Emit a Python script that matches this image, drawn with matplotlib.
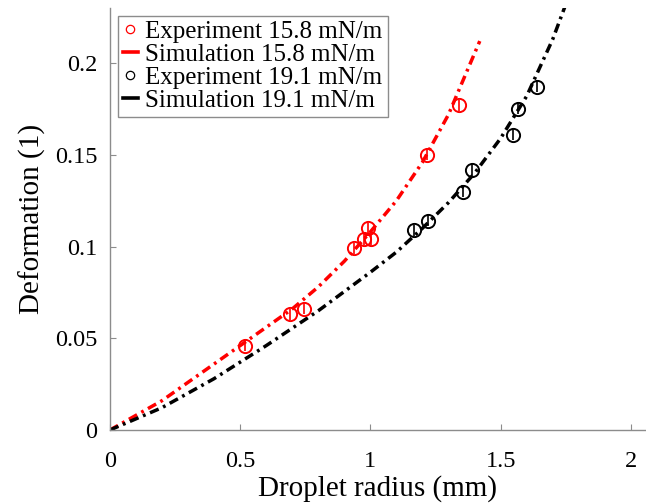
import matplotlib
matplotlib.use("Agg")
import matplotlib.pyplot as plt
from matplotlib.lines import Line2D
from matplotlib.ticker import FuncFormatter

# Measured deformation, surface tension 15.8 mN/m
exp1_r = [0.518, 0.691, 0.745, 0.937, 0.975, 0.990, 1.003, 1.217, 1.340]
exp1_d = [0.046, 0.063, 0.066, 0.099, 0.104, 0.110, 0.104, 0.150, 0.177]
exp1_err = [0.003, 0.003, 0.003, 0.003, 0.003, 0.003, 0.003, 0.003, 0.003]

# Measured deformation, surface tension 19.1 mN/m
exp2_r = [1.167, 1.221, 1.355, 1.390, 1.547, 1.566, 1.639]
exp2_d = [0.109, 0.114, 0.130, 0.142, 0.161, 0.175, 0.187]
exp2_err = [0.003, 0.003, 0.003, 0.003, 0.003, 0.003, 0.003]

# Simulated curves
sim1_r = [0, 0.2, 0.4, 0.5, 0.6, 0.7, 0.8, 0.9, 1.0, 1.1, 1.2, 1.3, 1.42]
sim1_d = [0, 0.016, 0.036, 0.046, 0.056, 0.066, 0.078, 0.092, 0.108, 0.125,
          0.146, 0.172, 0.212]
sim2_r = [0, 0.2, 0.4, 0.5, 0.6, 0.8, 1.0, 1.1, 1.2, 1.3, 1.4, 1.5, 1.6,
          1.7, 1.75]
sim2_d = [0, 0.0122, 0.028, 0.037, 0.046, 0.065, 0.086, 0.097, 0.110, 0.124,
          0.140, 0.159, 0.182, 0.213, 0.232]

x_ticks = [0, 0.5, 1, 1.5, 2]
y_ticks = [0, 0.05, 0.1, 0.15, 0.2]
labels = ["Experiment 15.8 mN/m", "Simulation 15.8 mN/m",
          "Experiment 19.1 mN/m", "Simulation 19.1 mN/m"]

plt.rcParams["font.family"] = ["Liberation Serif", "DejaVu Serif"]
plt.rcParams["mathtext.fontset"] = "stix"

fig = plt.figure(figsize=(6.46, 5.03), dpi=100)
ax = fig.add_axes([0.170, 0.145, 0.830, 0.839])

red = "#ff0000"
blk = "#000000"
dash = (2.7, 1.4, 0.8, 1.4)

ax.plot(sim1_r, sim1_d, color=red, lw=2.5, dashes=dash, zorder=2)
ax.plot(sim2_r, sim2_d, color=blk, lw=2.5, dashes=dash, zorder=2)

ax.errorbar(exp1_r, exp1_d, yerr=exp1_err, fmt="o", ms=9.5, mfc="none",
            mec=red, mew=1.4, ecolor=red, elinewidth=1.2, capsize=0, zorder=3)
ax.errorbar(exp2_r, exp2_d, yerr=exp2_err, fmt="o", ms=9.5, mfc="none",
            mec=blk, mew=1.4, ecolor=blk, elinewidth=1.2, capsize=0, zorder=3)

ax.set_xlim(0, 2.058)
ax.set_ylim(0, 0.23)
ax.set_xticks(x_ticks)
ax.set_yticks(y_ticks)
fmt = FuncFormatter(lambda v, p: f"{v:g}")
ax.xaxis.set_major_formatter(fmt)
ax.yaxis.set_major_formatter(fmt)

gray = "#8c8c8c"
for side in ("top", "right"):
    ax.spines[side].set_visible(False)
for side in ("left", "bottom"):
    ax.spines[side].set_color(gray)
    ax.spines[side].set_linewidth(1.0)
ax.tick_params(direction="in", length=4, width=0.8, color=gray,
               labelsize=17.5, labelcolor="black")
ax.tick_params(axis="x", pad=15)
ax.tick_params(axis="y", pad=9)

ax.set_xlabel("Droplet radius (mm)", fontsize=21, labelpad=2)
ax.set_ylabel("Deformation (1)", fontsize=21, labelpad=6)

handles = [
    Line2D([], [], ls="none", marker="o", ms=6, mfc="none", mec=red, mew=0.9),
    Line2D([], [], color=red, lw=2.6),
    Line2D([], [], ls="none", marker="o", ms=6, mfc="none", mec=blk, mew=0.9),
    Line2D([], [], color=blk, lw=2.6),
]
leg = ax.legend(handles, labels, loc="upper left",
                bbox_to_anchor=(0.015, 0.982), fontsize=18,
                handlelength=0.6, handletextpad=0.3, labelspacing=0.02,
                borderpad=0.2, borderaxespad=0, fancybox=False,
                framealpha=1, edgecolor=gray)
leg.get_frame().set_linewidth(1.0)

fig.savefig("out.png", dpi=100)
